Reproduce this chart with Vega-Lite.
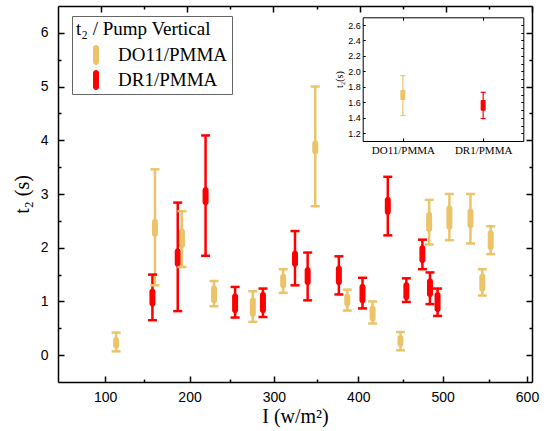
{
  "$schema": "https://vega.github.io/schema/vega-lite/v6.json",
  "width": 474,
  "height": 376,
  "autosize": "none",
  "padding": {"left": 58, "top": 6, "right": 18, "bottom": 49},
  "background": "white",
  "config": {
    "view": {"stroke": null},
    "axis": {"grid": false, "domainColor": "black", "tickColor": "black", "labelColor": "black", "titleColor": "black", "domainWidth": 1.5, "tickWidth": 1.5}
  },
  "datasets": {
    "main": [
      {"I": 113, "sample": "DO11/PMMA", "lo": 0.07, "hi": 0.42, "blo": 0.12, "bhi": 0.34},
      {"I": 159, "sample": "DO11/PMMA", "lo": 1.30, "hi": 3.46, "blo": 2.20, "bhi": 2.54},
      {"I": 191, "sample": "DO11/PMMA", "lo": 1.64, "hi": 2.68, "blo": 1.99, "bhi": 2.36},
      {"I": 229, "sample": "DO11/PMMA", "lo": 0.91, "hi": 1.38, "blo": 0.96, "bhi": 1.30},
      {"I": 275, "sample": "DO11/PMMA", "lo": 0.62, "hi": 1.19, "blo": 0.71, "bhi": 1.08},
      {"I": 311, "sample": "DO11/PMMA", "lo": 1.16, "hi": 1.60, "blo": 1.24, "bhi": 1.52},
      {"I": 349, "sample": "DO11/PMMA", "lo": 2.77, "hi": 5.00, "blo": 3.73, "bhi": 4.00},
      {"I": 387, "sample": "DO11/PMMA", "lo": 0.83, "hi": 1.22, "blo": 0.90, "bhi": 1.15},
      {"I": 417, "sample": "DO11/PMMA", "lo": 0.59, "hi": 1.00, "blo": 0.62, "bhi": 0.93},
      {"I": 450, "sample": "DO11/PMMA", "lo": 0.09, "hi": 0.43, "blo": 0.15, "bhi": 0.38},
      {"I": 484, "sample": "DO11/PMMA", "lo": 2.06, "hi": 2.89, "blo": 2.29, "bhi": 2.67},
      {"I": 508, "sample": "DO11/PMMA", "lo": 2.14, "hi": 3.00, "blo": 2.33, "bhi": 2.79},
      {"I": 533, "sample": "DO11/PMMA", "lo": 2.08, "hi": 3.00, "blo": 2.36, "bhi": 2.73},
      {"I": 547, "sample": "DO11/PMMA", "lo": 1.11, "hi": 1.60, "blo": 1.18, "bhi": 1.52},
      {"I": 557, "sample": "DO11/PMMA", "lo": 1.88, "hi": 2.40, "blo": 1.95, "bhi": 2.33},
      {"I": 156, "sample": "DR1/PMMA", "lo": 0.65, "hi": 1.50, "blo": 0.90, "bhi": 1.24},
      {"I": 186, "sample": "DR1/PMMA", "lo": 0.82, "hi": 2.84, "blo": 1.64, "bhi": 1.99},
      {"I": 219, "sample": "DR1/PMMA", "lo": 1.85, "hi": 4.09, "blo": 2.79, "bhi": 3.13},
      {"I": 254, "sample": "DR1/PMMA", "lo": 0.70, "hi": 1.27, "blo": 0.78, "bhi": 1.15},
      {"I": 287, "sample": "DR1/PMMA", "lo": 0.71, "hi": 1.24, "blo": 0.78, "bhi": 1.18},
      {"I": 325, "sample": "DR1/PMMA", "lo": 1.30, "hi": 2.31, "blo": 1.64, "bhi": 1.95},
      {"I": 340, "sample": "DR1/PMMA", "lo": 1.02, "hi": 1.91, "blo": 1.30, "bhi": 1.64},
      {"I": 377, "sample": "DR1/PMMA", "lo": 1.13, "hi": 1.84, "blo": 1.30, "bhi": 1.67},
      {"I": 405, "sample": "DR1/PMMA", "lo": 0.87, "hi": 1.44, "blo": 0.96, "bhi": 1.33},
      {"I": 435, "sample": "DR1/PMMA", "lo": 2.23, "hi": 3.32, "blo": 2.61, "bhi": 2.95},
      {"I": 457, "sample": "DR1/PMMA", "lo": 0.99, "hi": 1.43, "blo": 1.02, "bhi": 1.36},
      {"I": 476, "sample": "DR1/PMMA", "lo": 1.60, "hi": 2.15, "blo": 1.71, "bhi": 2.05},
      {"I": 485, "sample": "DR1/PMMA", "lo": 0.95, "hi": 1.54, "blo": 1.08, "bhi": 1.43},
      {"I": 494, "sample": "DR1/PMMA", "lo": 0.73, "hi": 1.24, "blo": 0.80, "bhi": 1.18}
    ],
    "inset": [
      {"sample": "DO11/PMMA", "lo": 1.43, "hi": 1.945, "blo": 1.63, "bhi": 1.76},
      {"sample": "DR1/PMMA", "lo": 1.39, "hi": 1.73, "blo": 1.49, "bhi": 1.63}
    ]
  },
  "layer": [
    {
      "data": {"name": "main"},
      "encoding": {
        "x": {"field": "I", "type": "quantitative", "scale": {"domain": [50, 600], "nice": false, "zero": false},
          "axis": {"orient": "bottom", "values": [100, 200, 300, 400, 500, 600], "format": "d", "tickSize": -6, "labelPadding": 14, "labelFont": "Liberation Sans", "labelFontSize": 14, "title": "I (w/m²)", "titleFont": "Liberation Serif", "titleFontSize": 20, "titleFontWeight": "normal", "titlePadding": 2}},
        "color": {"field": "sample", "type": "nominal", "scale": {"domain": ["DO11/PMMA", "DR1/PMMA"], "range": ["#EBC46A", "#FF0000"]},
          "legend": {"orient": "none", "legendX": 14, "legendY": 10, "title": "t₂ / Pump Vertical", "titleFont": "Liberation Serif", "titleFontSize": 19, "titleFontWeight": "normal", "titleColor": "black", "titleLimit": 300, "labelFont": "Liberation Serif", "labelFontSize": 19, "labelColor": "black", "labelLimit": 300, "symbolType": "M-0.3,-0.7A0.3,0.3 0 0 1 0.3,-0.7L0.3,0.7A0.3,0.3 0 0 1 -0.3,0.7Z", "symbolSize": 400, "symbolStrokeWidth": 0, "symbolOpacity": 1, "strokeColor": "#666666", "fillColor": "white", "padding": 4, "symbolOffset": 10, "labelOffset": 12, "rowPadding": 5, "titlePadding": 6}}
      },
      "layer": [
        {
          "mark": {"type": "bar", "width": 6, "cornerRadius": 3},
          "encoding": {
            "y": {"field": "blo", "type": "quantitative", "scale": {"domain": [-0.5, 6.5], "nice": false, "zero": false},
              "axis": {"orient": "left", "values": [0, 1, 2, 3, 4, 5, 6], "format": "d", "tickSize": -6, "labelPadding": 16, "labelFont": "Liberation Sans", "labelFontSize": 14, "title": "t₂ (s)", "titleFont": "Liberation Serif", "titleFontSize": 20, "titleFontWeight": "normal", "titlePadding": 8}},
            "y2": {"field": "bhi"}
          }
        },
        {
          "mark": {"type": "rule", "strokeWidth": 2.5},
          "encoding": {"y": {"field": "lo", "type": "quantitative"}, "y2": {"field": "hi"}}
        },
        {
          "mark": {"type": "tick", "orient": "horizontal", "size": 9, "thickness": 2.5, "opacity": 1},
          "encoding": {"y": {"field": "lo", "type": "quantitative"}}
        },
        {
          "mark": {"type": "tick", "orient": "horizontal", "size": 9, "thickness": 2.5, "opacity": 1},
          "encoding": {"y": {"field": "hi", "type": "quantitative"}}
        }
      ]
    },
    {
      "data": {"name": "main"},
      "mark": {"type": "point", "opacity": 0},
      "encoding": {
        "x": {"field": "I", "type": "quantitative", "scale": {"domain": [50, 600], "nice": false, "zero": false},
          "axis": {"orient": "top", "values": [100, 200, 300, 400, 500, 600], "tickSize": -6, "labels": false, "title": null}},
        "y": {"field": "lo", "type": "quantitative", "scale": {"domain": [-0.5, 6.5], "nice": false, "zero": false},
          "axis": {"orient": "right", "values": [0, 1, 2, 3, 4, 5, 6], "tickSize": -6, "labels": false, "title": null}}
      }
    },
    {
      "data": {"name": "main"},
      "mark": {"type": "point", "opacity": 0},
      "encoding": {
        "x": {"field": "I", "type": "quantitative", "scale": {"domain": [50, 600], "nice": false, "zero": false},
          "axis": {"orient": "bottom", "values": [150, 250, 350, 450, 550], "tickSize": -3, "labels": false, "domain": false, "title": null}},
        "y": {"field": "lo", "type": "quantitative", "scale": {"domain": [-0.5, 6.5], "nice": false, "zero": false},
          "axis": {"orient": "left", "values": [0.5, 1.5, 2.5, 3.5, 4.5, 5.5], "tickSize": -3, "labels": false, "domain": false, "title": null}}
      }
    },
    {
      "data": {"name": "main"},
      "mark": {"type": "point", "opacity": 0},
      "encoding": {
        "x": {"field": "I", "type": "quantitative", "scale": {"domain": [50, 600], "nice": false, "zero": false},
          "axis": {"orient": "top", "values": [150, 250, 350, 450, 550], "tickSize": -3, "labels": false, "domain": false, "title": null}},
        "y": {"field": "lo", "type": "quantitative", "scale": {"domain": [-0.5, 6.5], "nice": false, "zero": false},
          "axis": {"orient": "right", "values": [0.5, 1.5, 2.5, 3.5, 4.5, 5.5], "tickSize": -3, "labels": false, "domain": false, "title": null}}
      }
    },
    {
      "data": {"name": "inset"},
      "encoding": {
        "x": {"field": "sample", "type": "nominal", "scale": {"type": "point", "domain": ["DO11/PMMA", "DR1/PMMA"], "range": [304.7, 465.3], "padding": 0.5},
          "axis": {"orient": "bottom", "offset": -241, "tickSize": -3, "labelPadding": 6, "labelAngle": 0, "labelFont": "Liberation Serif", "labelFontSize": 11, "domainWidth": 1, "tickWidth": 1, "title": null}},
        "color": {"field": "sample", "type": "nominal"}
      },
      "layer": [
        {
          "mark": {"type": "bar", "width": 5, "cornerRadius": 1},
          "encoding": {
            "y": {"field": "blo", "type": "quantitative", "scale": {"domain": [1.1, 2.7], "range": [135, 11.3], "nice": false, "zero": false},
              "axis": {"orient": "left", "offset": -304.7, "values": [1.2, 1.3, 1.4, 1.5, 1.6, 1.7, 1.8, 1.9, 2.0, 2.1, 2.2, 2.3, 2.4, 2.5, 2.6], "labelExpr": "round(datum.value*10)%2==0 ? format(datum.value, '.1f') : ''", "tickSize": -2.5, "labelPadding": 5, "labelFont": "Liberation Sans", "labelFontSize": 9, "domainWidth": 1, "tickWidth": 1, "title": "t₂(s)", "titleFont": "Liberation Serif", "titleFontSize": 10, "titleFontWeight": "normal", "titlePadding": 3}},
            "y2": {"field": "bhi"}
          }
        },
        {
          "mark": {"type": "rule", "strokeWidth": 1.2},
          "encoding": {"y": {"field": "lo", "type": "quantitative"}, "y2": {"field": "hi"}}
        },
        {
          "mark": {"type": "tick", "orient": "horizontal", "size": 5, "thickness": 1.2, "opacity": 1},
          "encoding": {"y": {"field": "lo", "type": "quantitative"}}
        },
        {
          "mark": {"type": "tick", "orient": "horizontal", "size": 5, "thickness": 1.2, "opacity": 1},
          "encoding": {"y": {"field": "hi", "type": "quantitative"}}
        }
      ]
    },
    {
      "data": {"name": "inset"},
      "mark": {"type": "point", "opacity": 0},
      "encoding": {
        "x": {"field": "sample", "type": "nominal", "scale": {"type": "point", "domain": ["DO11/PMMA", "DR1/PMMA"], "range": [304.7, 465.3], "padding": 0.5},
          "axis": {"orient": "top", "offset": -11.3, "tickSize": -3, "labels": false, "domainWidth": 1, "tickWidth": 1, "title": null}},
        "y": {"field": "lo", "type": "quantitative", "scale": {"domain": [1.1, 2.7], "range": [135, 11.3], "nice": false, "zero": false},
          "axis": {"orient": "right", "offset": -8.7, "values": [1.2, 1.3, 1.4, 1.5, 1.6, 1.7, 1.8, 1.9, 2.0, 2.1, 2.2, 2.3, 2.4, 2.5, 2.6], "tickSize": -2.5, "labels": false, "domainWidth": 1, "tickWidth": 1, "title": null}}
      }
    }
  ],
  "resolve": {
    "scale": {"x": "independent", "y": "independent"},
    "axis": {"x": "independent", "y": "independent"}
  }
}
